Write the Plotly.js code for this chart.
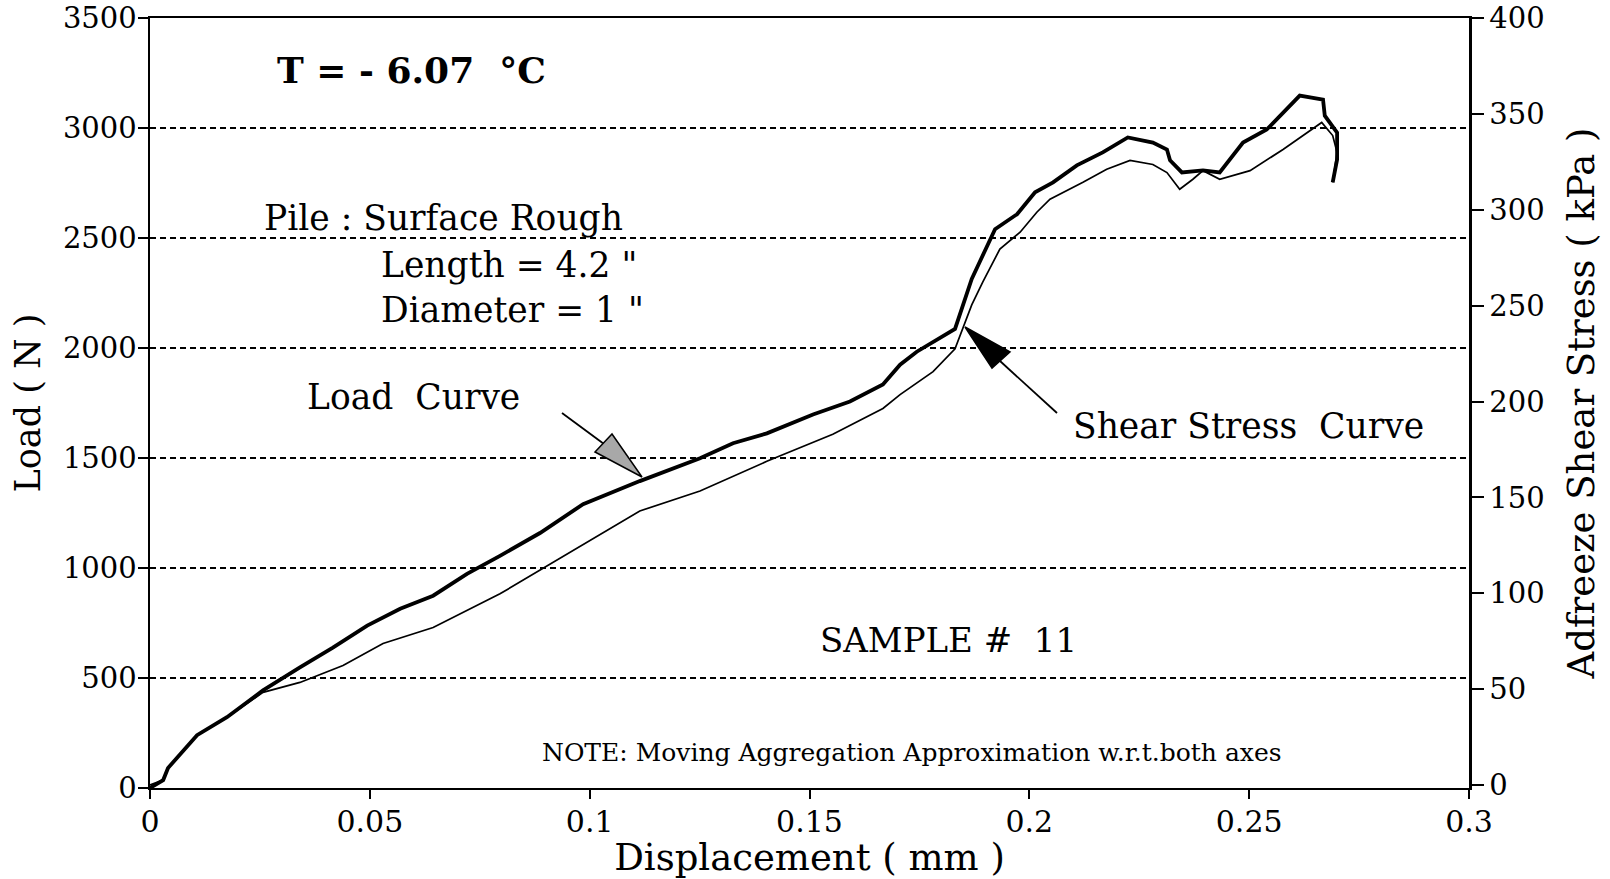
<!DOCTYPE html>
<html>
<head>
<meta charset="utf-8">
<script src="https://cdn.plot.ly/plotly-3.0.1.min.js"></script>
<style>html,body{margin:0;padding:0;background:#fff;}#chart{width:1610px;height:879px;}</style>
</head>
<body>
<div id="chart"></div>
<script>
// Load curve (left axis, N)
var loadX = [0, 0.003, 0.0041, 0.0107, 0.0175, 0.0257, 0.0341, 0.0416, 0.0494, 0.0569, 0.0644, 0.0721, 0.0796, 0.0887, 0.0985, 0.1114, 0.1251, 0.1326, 0.1403, 0.1508, 0.1592, 0.1667, 0.1706, 0.1744, 0.1831, 0.1869, 0.1922, 0.1972, 0.2013, 0.2054, 0.2108, 0.2167, 0.2224, 0.2281, 0.2313, 0.2320, 0.2347, 0.2395, 0.2433, 0.2486, 0.2540, 0.2615, 0.2668, 0.2672, 0.2700, 0.2700, 0.2690];
var loadY = [0, 36, 91, 240, 322, 444, 548, 638, 738, 815, 874, 973, 1055, 1159, 1290, 1395, 1499, 1567, 1612, 1698, 1757, 1834, 1924, 1983, 2087, 2314, 2540, 2608, 2708, 2753, 2830, 2889, 2957, 2934, 2902, 2853, 2798, 2807, 2798, 2934, 2993, 3147, 3129, 3056, 2979, 2857, 2753];
// Shear stress curve (right axis, kPa)
var stressX = [0, 0.003, 0.0041, 0.0107, 0.0175, 0.0257, 0.0341, 0.0439, 0.0530, 0.0644, 0.0796, 0.0910, 0.1008, 0.1114, 0.1251, 0.1403, 0.1553, 0.1667, 0.1706, 0.1781, 0.1831, 0.1869, 0.1894, 0.1933, 0.1979, 0.2017, 0.2047, 0.2122, 0.2176, 0.2229, 0.2281, 0.2313, 0.2342, 0.2372, 0.2395, 0.2433, 0.2502, 0.2577, 0.2665, 0.2690, 0.2700, 0.2690];
var stressY = [0, 2.6, 8.8, 26, 35.3, 48.3, 53.5, 62.3, 73.8, 82.1, 99.7, 115.3, 128.8, 142.9, 153.3, 168.8, 182.9, 196.4, 203.6, 215.6, 227.5, 250.4, 262.3, 279.5, 288.3, 298.7, 305.5, 314.3, 321.1, 325.7, 323.6, 319.4, 310.7, 315.9, 320.4, 315.9, 320.4, 331.4, 345.5, 338.7, 329.9, 314.3];
var xTicks = [0, 0.05, 0.1, 0.15, 0.2, 0.25, 0.3];
var xTickText = ['0', '0.05', '0.1', '0.15', '0.2', '0.25', '0.3'];
var yTicks = [0, 500, 1000, 1500, 2000, 2500, 3000, 3500];
var y2Ticks = [0, 50, 100, 150, 200, 250, 300, 350, 400];

var W = 1610, H = 879;
var L = 150, R = 1469, T = 18, B = 788;
var XR = [0, 0.3], YR = [0, 3500], Y2R = [-1.56, 400];
function px2x(px) { return XR[0] + (px - L) / (R - L) * (XR[1] - XR[0]); }
function py2y(py) { return YR[0] + (B - py) / (B - T) * (YR[1] - YR[0]); }

var SERIF = 'DejaVu Serif, Liberation Serif, serif';

var traces = [
  { x: loadX, y: loadY, type: 'scatter', mode: 'lines', line: { color: '#000', width: 3.8 }, name: 'Load', yaxis: 'y', hoverinfo: 'skip' },
  { x: stressX, y: stressY, type: 'scatter', mode: 'lines', line: { color: '#000', width: 1.7 }, name: 'Shear stress', yaxis: 'y2', hoverinfo: 'skip' }
];

function txt(text, pxl, pyc, size, bold) {
  return { xref: 'x', yref: 'y', x: px2x(pxl), y: py2y(pyc), xanchor: 'left', yanchor: 'middle',
    text: bold ? '<b>' + text + '</b>' : text, showarrow: false,
    font: { family: SERIF, size: size, color: '#000' } };
}
function arrowLine(x0, y0, x1, y1) {
  return { type: 'line', xref: 'x', yref: 'y', x0: px2x(x0), y0: py2y(y0), x1: px2x(x1), y1: py2y(y1), line: { color: '#000', width: 1.8 } };
}
function tri(pts, fill) {
  var p = 'M' + pts.map(function (q) { return px2x(q[0]) + ',' + py2y(q[1]); }).join('L') + 'Z';
  return { type: 'path', xref: 'x', yref: 'y', path: p, fillcolor: fill, line: { color: '#000', width: 1.5 } };
}

var nb = '\u00a0';
var annotations = [
  txt('T = - 6.07' + nb + nb + '°C', 275, 70, 36, true),
  txt('Pile : Surface Rough', 262, 218, 34.5, false),
  txt('Length = 4.2 "', 379, 265, 34.5, false),
  txt('Diameter = 1 "', 379, 310, 34.5, false),
  txt('Load' + nb + nb + 'Curve', 305, 397, 34.5, false),
  txt('Shear Stress' + nb + nb + 'Curve', 1071, 426, 34.5, false),
  txt('SAMPLE #' + nb + nb + '11', 818, 640, 34, false),
  txt('NOTE: Moving Aggregation Approximation w.r.t.both axes', 540, 752, 25, false)
];

var shapes = [
  arrowLine(562, 413, 604, 444),
  tri([[595, 452], [612, 434], [642, 477]], '#a8a8a8'),
  arrowLine(1057, 413, 1000, 361),
  tri([[965, 327], [992, 368], [1010, 352]], '#000')
];

var layout = {
  width: W, height: H,
  margin: { l: L, r: W - R, t: T, b: H - B, pad: 0 },
  paper_bgcolor: '#fff', plot_bgcolor: '#fff',
  showlegend: false,
  font: { family: SERIF, color: '#000', size: 29 },
  xaxis: {
    range: XR, tickvals: xTicks, ticktext: xTickText,
    ticks: 'outside', ticklen: 9, tickwidth: 2, tickcolor: '#000',
    ticklabelstandoff: -3, ticklabeloverflow: 'allow',
    showline: true, linecolor: '#000', linewidth: 2, mirror: true,
    showgrid: false, zeroline: false,
    tickfont: { family: SERIF, size: 30, color: '#000' },
    title: { text: 'Displacement ( mm )', font: { family: SERIF, size: 37, color: '#000' }, standoff: 2 }
  },
  yaxis: {
    range: YR, tickvals: yTicks,
    ticks: 'outside', ticklen: 10, tickwidth: 2, tickcolor: '#000',
    ticklabelstandoff: -5, ticklabeloverflow: 'allow',
    showline: true, linecolor: '#000', linewidth: 2.5,
    showgrid: true, gridcolor: '#000', gridwidth: 1.9, griddash: '6px,4px',
    zeroline: false,
    tickfont: { family: SERIF, size: 29, color: '#000' },
    title: { text: 'Load ( N )', font: { family: SERIF, size: 35, color: '#000' }, standoff: 12 }
  },
  yaxis2: {
    range: Y2R, tickvals: y2Ticks, overlaying: 'y', side: 'right',
    ticks: 'outside', ticklen: 12, tickwidth: 2, tickcolor: '#000',
    ticklabeloverflow: 'allow',
    showline: true, linecolor: '#000', linewidth: 2.5,
    showgrid: false, zeroline: false,
    tickfont: { family: SERIF, size: 29, color: '#000' },
    title: { text: 'Adfreeze Shear Stress ( kPa )', font: { family: SERIF, size: 37, color: '#000' }, standoff: 25 }
  },
  annotations: annotations,
  shapes: shapes
};

Plotly.newPlot('chart', traces, layout, { staticPlot: true });
</script>
</body>
</html>
